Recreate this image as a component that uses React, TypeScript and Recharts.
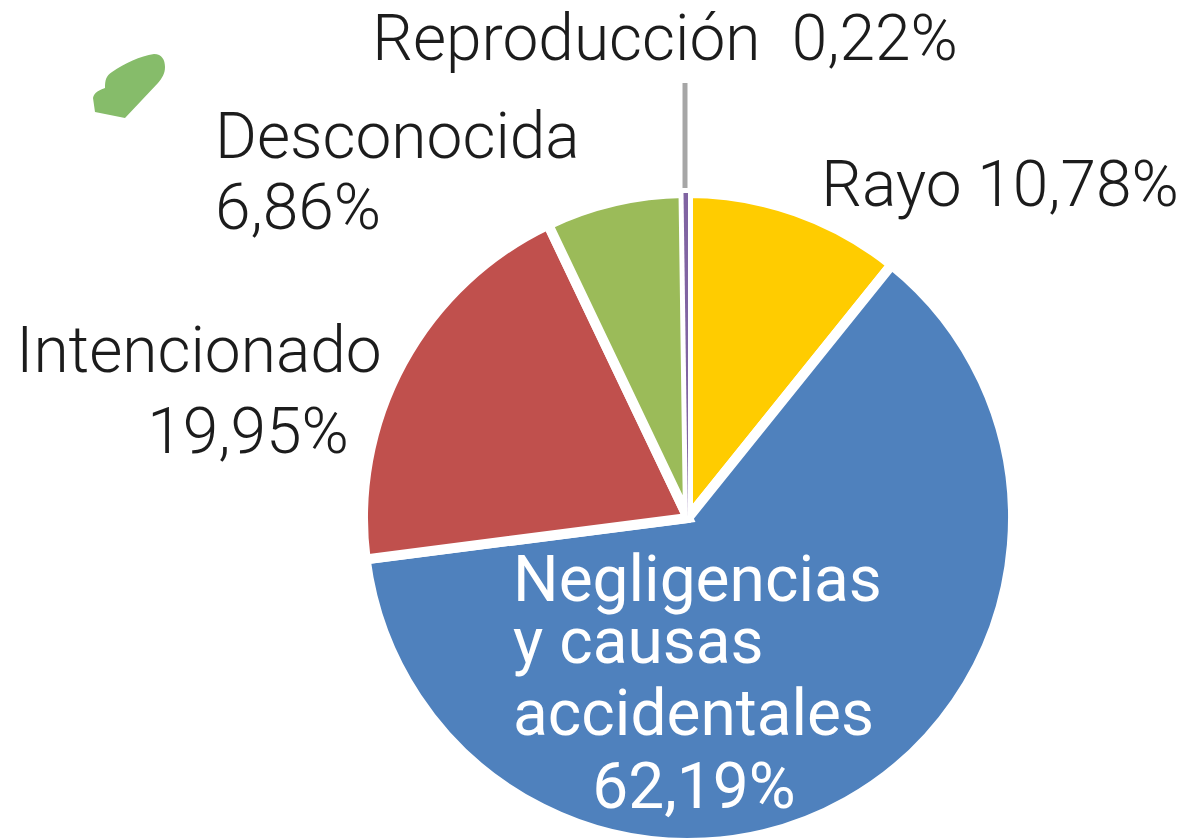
import React from "react";
import { PieChart, Pie, Cell, Customized } from "recharts";

const categories = ["Rayo", "Negligencias y causas accidentales", "Intencionado", "Desconocida", "Reproducción"];
const values = [10.78, 62.19, 19.95, 6.86, 0.22];
const colors = ["#FFCC00", "#4F81BD", "#C0504D", "#9BBB59", "#8064A2"];

const data = categories.map((name, i) => ({ name, value: values[i] }));

const dark = "#1c1c1c";
const labelLines = [
  [{ t: "Rayo 10,78%", x: 1000, y: 206, anchor: "middle", fill: dark, weight: 300 }],
  [
    { t: "Negligencias", x: 513, y: 601, anchor: "start", fill: "#fff", weight: 400 },
    { t: "y causas", x: 513, y: 663, anchor: "start", fill: "#fff", weight: 400 },
    { t: "accidentales", x: 513, y: 735, anchor: "start", fill: "#fff", weight: 400 },
    { t: "62,19%", x: 694, y: 808, anchor: "middle", fill: "#fff", weight: 400 },
  ],
  [
    { t: "Intencionado", x: 199, y: 372, anchor: "middle", fill: dark, weight: 300 },
    { t: "19,95%", x: 248, y: 453, anchor: "middle", fill: dark, weight: 300 },
  ],
  [
    { t: "Desconocida", x: 215, y: 158, anchor: "start", fill: dark, weight: 300 },
    { t: "6,86%", x: 215, y: 229, anchor: "start", fill: dark, weight: 300 },
  ],
  [{ t: "Reproducción\u00A0\u00A00,22%", x: 665, y: 60, anchor: "middle", fill: dark, weight: 300 }],
];

const renderLabel = (props: any) => {
  const lines = labelLines[props.index];
  return (
    <g key={props.index}>
      {lines.map((l) => (
        <text
          key={l.t}
          x={l.x}
          y={l.y}
          textAnchor={l.anchor as any}
          fill={l.fill}
          fontFamily="Roboto"
          fontWeight={l.weight}
          fontSize={64}
          stroke="none"
        >
          {l.t}
        </text>
      ))}
    </g>
  );
};

const Extras = () => (
  <g>
    <line x1={685} y1={83} x2={685} y2={193} stroke="#A6A6A6" strokeWidth={5} />
    <path
      d="M93 98 C94 92 100 90 105 88 C105 80 106 76 112 72 C125 63 140 56 154 54 C162 54 165 60 165 67 C165 74 162 78 158 83 L125 118 L95 112 Z"
      fill="#86BC6A"
    />
  </g>
);

export default function App() {
  return (
    <div style={{ position: "absolute", left: 0, top: 0, background: "#fff" }}>
      <PieChart width={1192} height={839} margin={{ top: 0, right: 0, bottom: 0, left: 0 }}>
        <Pie
          data={data}
          dataKey="value"
          cx={688}
          cy={518}
          outerRadius={325}
          startAngle={90}
          endAngle={-270}
          stroke="#fff"
          strokeWidth={10}
          label={renderLabel}
          labelLine={false}
          isAnimationActive={false}
        >
          {data.map((d, i) => (
            <Cell
              key={d.name}
              fill={colors[i]}
              stroke={i === 4 ? "none" : "#fff"}
              strokeWidth={i === 4 ? 0 : 10}
            />
          ))}
        </Pie>
        <Customized component={Extras} />
      </PieChart>
    </div>
  );
}
